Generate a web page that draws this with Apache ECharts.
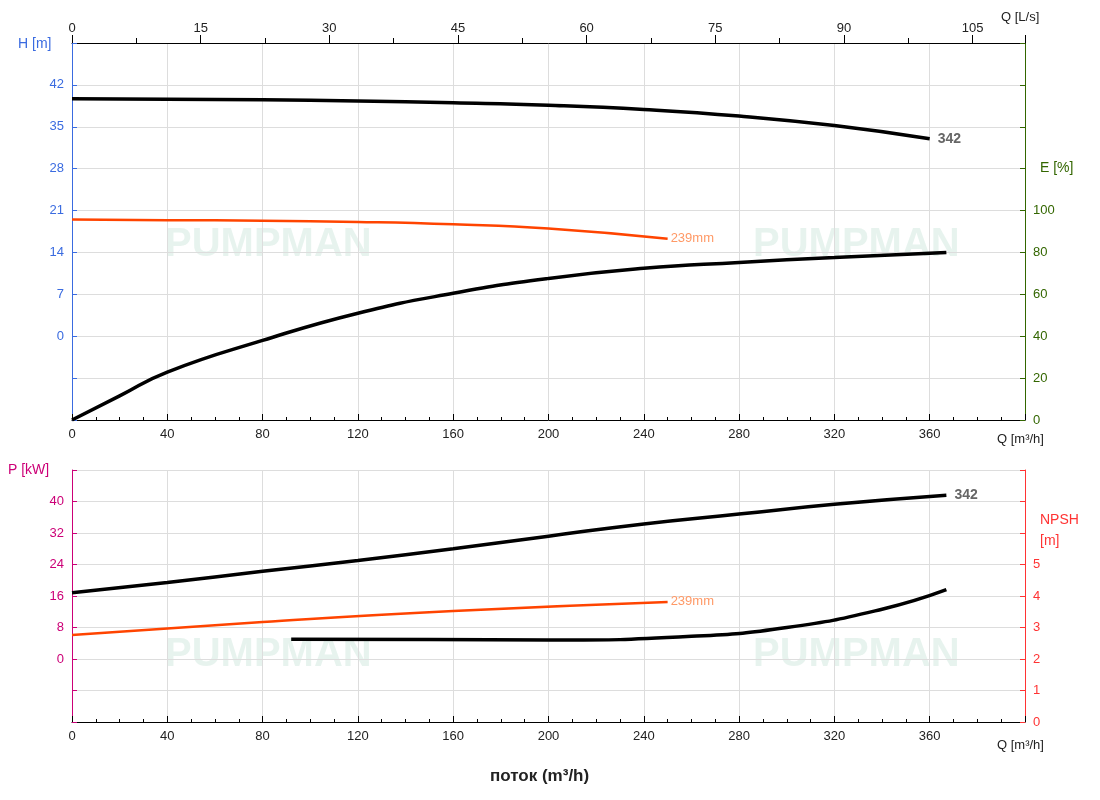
<!DOCTYPE html><html><head><meta charset="utf-8"><script src="https://cdn.jsdelivr.net/npm/echarts@6/dist/echarts.min.js"></script></head><body style="margin:0"><div id="c" style="width:1100px;height:800px"></div><script>
const H342=[[0,39.7],[40,39.6],[80,39.5],[120,39.3],[160,39.0],[200,38.6],[240,37.9],[280,36.8],[320,35.2],[360,33.0]];
const H239=[[0,19.5],[40,19.4],[80,19.3],[120,19.1],[160,18.7],[200,18.0],[250,16.3]];
const E342=[[0,0],[20,11.5],[40,22.9],[80,38],[120,51],[160,60.5],[200,67.6],[240,72.4],[280,75.2],[320,77.6],[367,80]];
const P342=[[0,16.8],[40,19.4],[80,22.3],[120,25],[160,28],[200,31.2],[240,34.3],[280,36.8],[320,39.3],[367,41.6]];
const P239=[[0,6.1],[80,9.4],[160,12.2],[250,14.5]];
const NPSH=[[92,2.63],[150,2.62],[200,2.6],[260,2.72],[300,3.0],[340,3.58],[367,4.2]];
const ft="Arial, Liberation Sans";
const grid=[{left:72,right:75,top:43,height:377,outerBoundsMode:'none',containLabel:false},{left:72,right:75,top:470,height:252,outerBoundsMode:'none',containLabel:false}];
function xa(gi,pos){return {type:'value',gridIndex:gi,min:0,max:400,interval:40,position:pos,axisLine:{onZero:false,lineStyle:{color:'#000'}},axisTick:{inside:true,length:6,lineStyle:{color:'#000'}},minorTick:{show:true,splitNumber:4,length:3,lineStyle:{color:'#000'}},
 axisLabel:{color:'#222',fontSize:13,formatter:v=>v>360?'':v},splitLine:{show:true,lineStyle:{color:'#ddd'}}};}
function ya(gi,min,max,iv,lmax,col,pos){return {type:'value',gridIndex:gi,min:min,max:max,interval:iv,position:pos,
 axisLine:{show:true,onZero:false,lineStyle:{color:col}},axisTick:{show:true,inside:true,lineStyle:{color:col}},
 axisLabel:{color:col,fontSize:13,formatter:v=>(v<0||v>lmax)?'':v},splitLine:{show:false}};}
const wm=[];
[[255,200],[843,200],[255,610],[843,610]].forEach(p=>wm.push({type:'text',left:p[0]-90,top:p[1]+25,z:0,style:{text:'PUMPMAN',font:'bold 40px '+ft,fill:'rgba(120,190,160,0.18)'}}));
function t(x,y,s,c,f){return {type:'text',left:x,top:y,style:{text:s,fill:c,font:(f||'14px ')+ft}};}
const opt={animation:false,grid:grid,graphic:wm.concat([t(490,768,'поток (m³/h)','#222','bold 17px '),
 t(18,37,'H [m]','#3a6be0'),t(1040,161,'E [%]','#336600'),t(8,463,'P [kW]','#cc0077'),t(1040,513,'NPSH','#ff3333'),t(1040,534,'[m]','#ff3333'),
 t(1001,11,'Q [L/s]','#222','13px '),t(997,433,'Q [m³/h]','#222','13px '),t(997,739,'Q [m³/h]','#222','13px ')]),
xAxis:[xa(0,'bottom'),{type:'value',gridIndex:0,position:'top',min:0,max:400/3.6,interval:15,
 axisLine:{onZero:false,lineStyle:{color:'#000'}},axisTick:{inside:false,length:8,lineStyle:{color:'#000'}},minorTick:{show:true,splitNumber:2,length:5,lineStyle:{color:'#000'}},axisLabel:{color:'#222',fontSize:13,formatter:v=>v>105?'':v},splitLine:{show:false}},
 xa(1,'bottom')],
yAxis:[Object.assign(ya(0,-14,49,7,42,'#3a6be0','left'),{splitLine:{show:true,lineStyle:{color:'#ddd'}}}),
 ya(0,0,180,20,100,'#336600','right'),
 Object.assign(ya(1,-16,48,8,40,'#cc0077','left'),{splitLine:{show:true,lineStyle:{color:'#ddd'}}}),
 ya(1,0,8,1,5,'#ff3333','right')],
series:[
{type:'line',xAxisIndex:0,yAxisIndex:0,data:H342,smooth:true,symbol:'none',lineStyle:{color:'#000',width:3.5},endLabel:{show:true,formatter:'342',color:'#666',fontWeight:'bold',fontSize:14}},
{type:'line',xAxisIndex:0,yAxisIndex:0,data:H239,smooth:true,symbol:'none',lineStyle:{color:'#ff4400',width:2.5},endLabel:{show:true,formatter:'239mm',color:'#ff9966',fontSize:13,distance:3}},
{type:'line',xAxisIndex:0,yAxisIndex:1,data:E342,smooth:true,symbol:'none',lineStyle:{color:'#000',width:3.5}},
{type:'line',xAxisIndex:2,yAxisIndex:2,data:P342,smooth:true,symbol:'none',lineStyle:{color:'#000',width:3.5},endLabel:{show:true,formatter:'342',color:'#666',fontWeight:'bold',fontSize:14}},
{type:'line',xAxisIndex:2,yAxisIndex:2,data:P239,smooth:true,symbol:'none',lineStyle:{color:'#ff4400',width:2.5},endLabel:{show:true,formatter:'239mm',color:'#ff9966',fontSize:13,distance:3}},
{type:'line',xAxisIndex:2,yAxisIndex:3,data:NPSH,smooth:true,symbol:'none',lineStyle:{color:'#000',width:3.5}}
]};
echarts.init(document.getElementById('c')).setOption(opt);
</script></body></html>
